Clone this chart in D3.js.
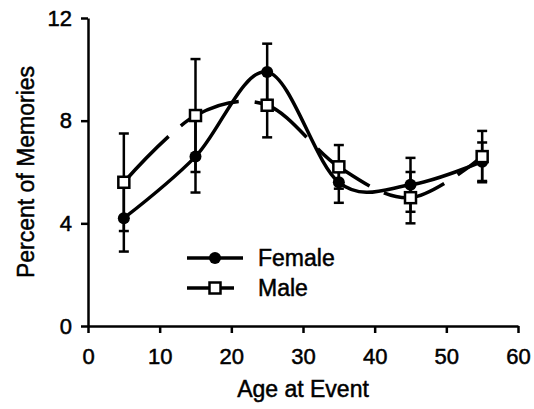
<!DOCTYPE html>
<html>
<head>
<meta charset="utf-8">
<script src="https://cdn.jsdelivr.net/npm/d3@7"></script>
<style>
  body { margin: 0; background: #fff; }
  svg { display: block; font-family: "Liberation Sans", Arial, sans-serif; }
  text { stroke: #000; stroke-width: 0.5px; }
</style>
</head>
<body>
<script>
const config = {
  width: 534,
  height: 409
};

// Data
const ages = [5, 15, 25, 35, 45, 55];
const female = [4.2, 6.6, 9.9, 5.6, 5.5, 6.4];
const femaleErr = [1.3, 1.4, 1.1, 0.8, 1.05, 0.75];
const male = [5.6, 8.2, 8.6, 6.2, 5.0, 6.6];
const maleErr = [1.9, 2.2, 1.25, 0.85, 1.0, 1.0];
const xTicks = [0, 10, 20, 30, 40, 50, 60];
const yTicks = [0, 4, 8, 12];

const svg = d3
  .select("body")
  .append("svg")
  .attr("width", config.width)
  .attr("height", config.height);

const x = d3.scaleLinear().domain([0, 60]).range([88, 518]);
const y = d3.scaleLinear().domain([0, 12]).range([326, 18]);

// Axes
const yAxis = svg
  .append("g")
  .attr("transform", `translate(${x(0)},0)`)
  .call(d3.axisLeft(y).tickValues(yTicks).tickSize(7).tickPadding(9).tickSizeOuter(0));

const xAxis = svg
  .append("g")
  .attr("transform", `translate(0,${y(0)})`)
  .call(d3.axisBottom(x).tickValues(xTicks).tickSize(7).tickPadding(15).tickSizeOuter(0));

[xAxis, yAxis].forEach(g => {
  g.select(".domain").attr("stroke", "#000").attr("stroke-width", 2.5);
  g.selectAll(".tick line").attr("stroke", "#000").attr("stroke-width", 2.5);
  g.selectAll(".tick text")
    .attr("fill", "#000")
    .attr("font-size", "22px")
    .attr("font-family", "Liberation Sans, Arial, sans-serif");
});

// Axis titles
svg
  .append("text")
  .text("Age at Event")
  .attr("x", 303)
  .attr("y", 397)
  .attr("text-anchor", "middle")
  .attr("font-size", "23px");

svg
  .append("text")
  .text("Percent of Memories")
  .attr("transform", "translate(34,172) rotate(-90)")
  .attr("text-anchor", "middle")
  .attr("font-size", "23px");

// Smoothed lines (Excel style)
const line = d3
  .line()
  .x((d, i) => x(ages[i]))
  .y(d => y(d))
  .curve(d3.curveCardinal.tension(0));

const plot = svg.append("g");

// Error bars
const drawErr = (vals, errs) => {
  const g = plot.append("g").attr("stroke", "#000").attr("stroke-width", 2.5);
  vals.forEach((v, i) => {
    const cx = x(ages[i]);
    g.append("line")
      .attr("x1", cx).attr("x2", cx)
      .attr("y1", y(v - errs[i])).attr("y2", y(v + errs[i]));
    [v - errs[i], v + errs[i]].forEach(e => {
      g.append("line")
        .attr("x1", cx - 5).attr("x2", cx + 5)
        .attr("y1", y(e)).attr("y2", y(e));
    });
  });
};
drawErr(female, femaleErr);
drawErr(male, maleErr);

plot
  .append("path")
  .datum(female)
  .attr("d", line)
  .attr("fill", "none")
  .attr("stroke", "#000")
  .attr("stroke-width", 3.5);

plot
  .append("path")
  .datum(male)
  .attr("d", line)
  .attr("fill", "none")
  .attr("stroke", "#000")
  .attr("stroke-width", 3.5)
  .attr("stroke-dasharray", "64,16");

// Markers
plot
  .selectAll(".fem")
  .data(female)
  .enter()
  .append("circle")
  .attr("cx", (d, i) => x(ages[i]))
  .attr("cy", d => y(d))
  .attr("r", 6)
  .attr("fill", "#000");

plot
  .selectAll(".mal")
  .data(male)
  .enter()
  .append("rect")
  .attr("x", (d, i) => x(ages[i]) - 5.5)
  .attr("y", d => y(d) - 5.5)
  .attr("width", 11)
  .attr("height", 11)
  .attr("fill", "#fff")
  .attr("stroke", "#000")
  .attr("stroke-width", 2.5);

// Legend
const legend = svg.append("g");
legend.append("line")
  .attr("x1", 187).attr("x2", 243).attr("y1", 258).attr("y2", 258)
  .attr("stroke", "#000").attr("stroke-width", 3.5);
legend.append("circle").attr("cx", 215).attr("cy", 258).attr("r", 6).attr("fill", "#000");
legend.append("text").text("Female").attr("x", 258).attr("y", 266).attr("font-size", "23px");

legend.append("line")
  .attr("x1", 187).attr("x2", 234).attr("y1", 288).attr("y2", 288)
  .attr("stroke", "#000").attr("stroke-width", 3.5);
legend.append("rect")
  .attr("x", 209.5).attr("y", 282.5).attr("width", 11).attr("height", 11)
  .attr("fill", "#fff").attr("stroke", "#000").attr("stroke-width", 2.5);
legend.append("text").text("Male").attr("x", 258).attr("y", 296).attr("font-size", "23px");
</script>
</body>
</html>
